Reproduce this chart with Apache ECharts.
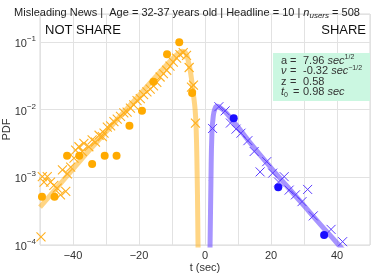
<!DOCTYPE html>
<html>
<head>
<meta charset="utf-8">
<script src="https://cdn.jsdelivr.net/npm/echarts@6/dist/echarts.min.js"></script>
<style>html,body{margin:0;padding:0;background:#fff}#c{width:374px;height:275px}</style>
</head>
<body>
<div id="c"></div>
<script>
// ---- data ----
const notShareCurveT = [-50, -45, -40, -35, -30, -25, -20, -15, -12, -10, -8, -7, -6, -5, -4.5, -4, -3.5, -3, -2.7, -2.4, -2.2, -2.05];
const notShareCurveP = [3.63e-4, 6.92e-4, 1.32e-3, 2.51e-3, 4.68e-3, 8.71e-3, 1.62e-2, 3.02e-2, 4.37e-2, 5.50e-2, 6.76e-2, 7.24e-2, 7.0e-2, 5.01e-2, 3.80e-2, 2.63e-2, 1.66e-2, 1.0e-2, 5.62e-3, 1.26e-3, 2.51e-4, 5.0e-5];

const shareCurveT = [1.5, 1.8, 2.1, 2.5, 3.0, 3.6, 4.5, 6, 8, 10, 15, 20, 25, 30, 35, 40, 42];
const shareCurveP = [7.9e-5, 8.9e-4, 4.47e-3, 7.94e-3, 1.02e-2, 1.12e-2, 1.07e-2, 9.33e-3, 7.24e-3, 5.50e-3, 2.69e-3, 1.38e-3, 7.24e-4, 3.80e-4, 2.0e-4, 1.07e-4, 8.3e-5];

const notShareCrossT = [-49.7, -49.3, -48.8, -47.8, -46.8, -45.8, -44.8, -43.8, -43.2, -42.2, -41.7, -40.7, -39.7, -39.2, -38.2, -37.2, -36.7, -35.2, -34.2, -33.2, -32.1, -31.1, -30.6, -29.6, -28.6, -27.6, -26.6, -25.6, -24.6, -23.6, -22.6, -21.6, -20.6, -19.6, -18.6, -17.6, -16.6, -15.6, -14.6, -13.6, -12.6, -11.6, -10.6, -9.6, -8.6, -7.6, -6.6, -5.6, -4.8, -4.1, -3.5, -2.9];
const notShareCrossP = [1.32e-4, 1.02e-3, 8.5e-4, 1.02e-3, 8.5e-4, 7.6e-4, 6.9e-4, 5.5e-4, 1.29e-3, 6.2e-4, 1.12e-3, 1.41e-3, 1.91e-3, 2.51e-3, 2.82e-3, 2.40e-3, 3.16e-3, 2.82e-3, 3.55e-3, 3.31e-3, 4.17e-3, 3.98e-3, 4.47e-3, 5.50e-3, 5.75e-3, 6.61e-3, 7.24e-3, 7.94e-3, 8.91e-3, 9.12e-3, 1.05e-2, 1.17e-2, 1.35e-2, 1.45e-2, 1.66e-2, 1.82e-2, 2.00e-2, 2.24e-2, 2.51e-2, 3.02e-2, 3.39e-2, 3.80e-2, 4.37e-2, 5.01e-2, 5.75e-2, 6.46e-2, 6.92e-2, 6.31e-2, 4.17e-2, 2.14e-2, 2.29e-2, 6.31e-3];

const shareCrossT = [2.3, 4.2, 6.1, 7.7, 9.4, 10.9, 13.0, 14.9, 16.7, 18.7, 20.5, 22.3, 24.0, 25.5, 27.4, 29.4, 31.1, 32.8, 38.2, 41.7];
const shareCrossP = [5.25e-3, 1.10e-2, 9.55e-3, 6.31e-3, 5.13e-3, 4.47e-3, 3.47e-3, 2.40e-3, 1.20e-3, 1.70e-3, 1.15e-3, 8.5e-4, 1.02e-3, 6.46e-4, 5.50e-4, 4.37e-4, 6.61e-4, 2.69e-4, 1.70e-4, 1.12e-4];

const notShareDotT = [-49.4, -45.6, -41.8, -38.1, -34.2, -30.4, -26.8, -22.9, -19.1, -15.6, -11.5, -7.8, -3.9];
const notShareDotP = [5.15e-4, 5.15e-4, 2.07e-3, 2.07e-3, 1.57e-3, 2.07e-3, 2.07e-3, 5.75e-3, 9.6e-3, 2.57e-2, 6.56e-2, 9.86e-2, 1.76e-2];

const shareDotT = [8.7, 22.2, 36.1];
const shareDotP = [7.4e-3, 7.1e-4, 1.4e-4];

const xTicks = [-40, -20, 0, 20, 40];
const yTicks = [1e-4, 1e-3, 1e-2, 1e-1];

const titleText = 'Misleading News |  Age = 32-37 years old | Headline = 10 | {i|n}{sub|users} = 508';
const fitLines = [
  ['a', '7.96', '1/2'],
  ['ν', '-0.32', '−1/2'],
  ['z', '0.58', null],
  ['t0', '0.98', '']
];

const zip = (a, b) => a.map((v, i) => [v, b[i]]);

const ORANGE = '#FFAA00';
const CROSS = 'path://M0,0L10,10M10,0L0,10';
const FONT = 'Liberation Sans, Arial, sans-serif';

const chart = echarts.init(document.getElementById('c'), null, {renderer: 'canvas'});

const boxTextGraphics = [];
const baseX = 281, baseY = 60.5, lh = 10.6;
fitLines.forEach((l, i) => {
  const y = baseY + i * lh;
  let lbl;
  if (l[0] === 't0') lbl = '{i|t}{sub|0}';
  else if (l[0] === 'ν') lbl = '{i|ν}';
  else lbl = l[0];
  boxTextGraphics.push({type: 'text', x: baseX, y: y, style: {text: lbl, font: '11px ' + FONT, fill: '#333', textVerticalAlign: 'middle', rich: {i: {fontStyle: 'italic', fontSize: 11, fontFamily: FONT}, sub: {fontSize: 7, padding: [6, 0, 0, 0], fontFamily: FONT}}}});
  boxTextGraphics.push({type: 'text', x: l[0] === 't0' ? 293 : 290, y: y, style: {text: '=', font: '11px ' + FONT, fill: '#333', textVerticalAlign: 'middle'}});
  let val = l[1];
  if (l[2] !== null) val += ' {i|sec}' + (l[2] ? '{sup|' + l[2] + '}' : '');
  boxTextGraphics.push({type: 'text', x: 303, y: y, style: {text: val, font: '11px ' + FONT, fill: '#333', textVerticalAlign: 'middle', rich: {i: {fontStyle: 'italic', fontSize: 11, fontFamily: FONT}, sup: {fontSize: 7, padding: [0, 0, 7, 0], fontFamily: FONT}}}});
});

const option = {
  animation: false,
  backgroundColor: '#fff',
  title: {
    text: titleText,
    left: 'center', top: 1,
    textStyle: {fontSize: 11, fontWeight: 'normal', color: '#222', fontFamily: FONT,
      rich: {i: {fontStyle: 'italic', fontSize: 11, fontFamily: FONT, color: '#222'}, sub: {fontStyle: 'italic', fontSize: 8, padding: [6, 0, 0, 0], fontFamily: FONT, color: '#222'}}}
  },
  grid: {left: 40, right: 4, top: 14, bottom: 30, show: true, borderColor: '#d9d9d9', borderWidth: 1, backgroundColor: 'transparent', containLabel: false, outerBoundsMode: 'none'},
  xAxis: {
    type: 'value', min: -50, max: 50, interval: 10,
    name: 't (sec)', nameLocation: 'middle', nameGap: 17, nameMoveOverlap: false,
    nameTextStyle: {fontSize: 11, color: '#333', fontFamily: FONT},
    axisLine: {show: false}, axisTick: {show: false},
    axisLabel: {fontSize: 11, color: '#333', fontFamily: FONT, margin: 5,
      formatter: v => xTicks.indexOf(v) >= 0 ? String(v).replace('-', '−') : ''},
    splitLine: {show: true, lineStyle: {color: '#e2e2e2', width: 1},
      interval: (idx, v) => xTicks.indexOf(Number(v)) >= 0}
  },
  yAxis: {
    type: 'log', logBase: 10, min: 1e-4, max: 0.257,
    name: 'PDF', nameLocation: 'middle', nameGap: 33, nameRotate: 90, nameMoveOverlap: false,
    nameTextStyle: {fontSize: 11, color: '#333', fontFamily: FONT, align: 'center', verticalAlign: 'middle'},
    axisLine: {show: false}, axisTick: {show: false},
    axisLabel: {color: '#333', margin: 4, fontFamily: FONT,
      formatter: v => {
        const e = Math.round(Math.log10(v));
        if (Math.abs(Math.log10(v) - e) > 1e-6) return '';
        return '{b|10}{s|' + String(e).replace('-', '−') + '}';
      },
      rich: {b: {fontSize: 11, color: '#333', fontFamily: FONT, padding: [4, 0, 0, 0]}, s: {fontSize: 8, color: '#333', fontFamily: FONT, padding: [0, 0, 6, 0]}}},
    splitLine: {show: true, lineStyle: {color: '#e2e2e2', width: 1}}
  },
  series: [
    {type: 'line', data: zip(notShareCurveT, notShareCurveP), showSymbol: false, smooth: true, clip: true,
      lineStyle: {color: 'rgba(255,185,50,0.6)', width: 5}, z: 2},
    {type: 'line', data: zip(shareCurveT, shareCurveP), showSymbol: false, smooth: true, clip: true,
      lineStyle: {color: 'rgba(120,90,255,0.65)', width: 5}, z: 2},
    {type: 'scatter', data: zip(notShareCrossT, notShareCrossP), symbol: CROSS, symbolSize: 9,
      itemStyle: {color: 'transparent', borderColor: '#FFB020', borderWidth: 1.1, opacity: 1}, z: 3},
    {type: 'scatter', data: zip(shareCrossT, shareCrossP), symbol: CROSS, symbolSize: 9,
      itemStyle: {color: 'transparent', borderColor: '#5a3cff', borderWidth: 1, opacity: 1}, z: 3},
    {type: 'scatter', data: zip(notShareDotT, notShareDotP), symbol: 'circle', symbolSize: 8,
      itemStyle: {color: ORANGE, opacity: 1}, z: 4},
    {type: 'scatter', data: zip(shareDotT, shareDotP), symbol: 'circle', symbolSize: 8,
      itemStyle: {color: '#1a0dff', opacity: 1}, z: 4}
  ],
  graphic: [
    {type: 'text', x: 45, y: 30, z: 10, style: {text: 'NOT SHARE', font: '13px ' + FONT, fill: '#111', textVerticalAlign: 'middle'}},
    {type: 'text', x: 366, y: 30, z: 10, style: {text: 'SHARE', font: '13px ' + FONT, fill: '#111', textAlign: 'right', textVerticalAlign: 'middle'}},
    {type: 'rect', shape: {x: 273, y: 53, width: 97, height: 48}, style: {fill: '#cbf7e1'}, z: 9},
  ].concat(boxTextGraphics.map(g => Object.assign(g, {z: 10})))
};
chart.setOption(option);
</script>
</body>
</html>
